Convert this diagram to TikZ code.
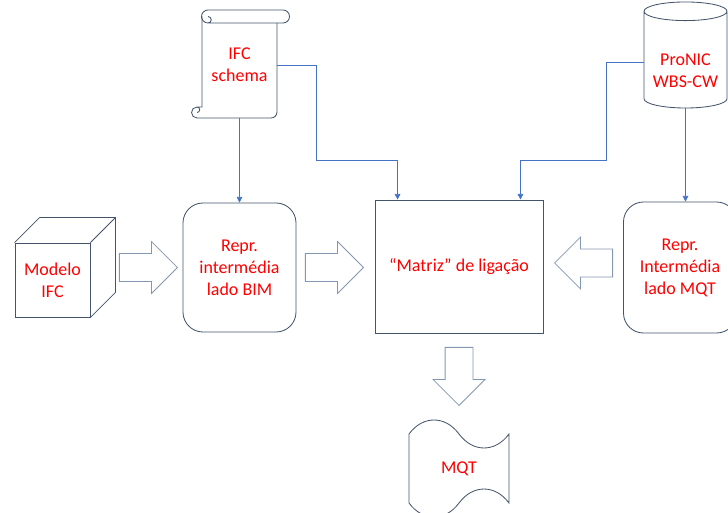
\documentclass[tikz,border=0pt]{standalone}
\usepackage{fontspec}
\setmainfont{Carlito}
\usepackage{tikz}
\usetikzlibrary{shapes.geometric,shapes.arrows,shapes.symbols}
\usetikzlibrary{calc,arrows.meta}

\definecolor{outline}{HTML}{44546A}
\definecolor{linkblue}{HTML}{4472C4}
\definecolor{fatline}{HTML}{8497B0}
\definecolor{labelred}{HTML}{FF0000}

\begin{document}
\begin{tikzpicture}[x=0.025cm,y=-0.025cm,
	font=\fontsize{12.8}{15.6}\selectfont,
	txt/.style={text=labelred,align=center},
	box/.style={draw=outline,line width=0.6pt,txt},
	fat/.style={single arrow,draw=fatline,line width=0.6pt,minimum height=1.45cm,single arrow head extend=0.3cm,inner xsep=0pt,inner ysep=0.3375cm,anchor=tip},
	link/.style={draw=linkblue,line width=0.5pt,-{Triangle[length=4pt,width=4pt]}}]
	\clip (0,0) rectangle (728,512);

	% scroll with the schema
	\draw[outline,line width=0.6pt] (208,10) -- (283,10) arc (-90:90:6.5) -- (208,23) arc (90:270:6.5)
		(208,23) arc (90:-90:3.25);
	\draw[outline,line width=0.6pt] (202,16.5) -- (202,107) -- (197,107) arc (270:90:5.5) -- (271,118) arc (90:0:6) -- (277,23)
		(197,107) arc (-90:90:2.75);
	\node[txt,minimum width=1.875cm,minimum height=2.65cm] (ifc) at (239.5,65) {IFC\\schema};

	% database
	\node[box,cylinder,shape border rotate=90,aspect=0.25,minimum height=2.65cm,minimum width=2.075cm] (pronic) at (685.5,62) {\\[5pt]ProNIC\\WBS-CW};

	% cube
	\node[box,minimum width=1.875cm,minimum height=1.85cm] (model) at (52.5,280) {Modelo\\IFC};
	\draw[outline,line width=0.6pt] (model.north west) -- ++(25,-25) -| ($(model.south east)+(25,-25)$) -- (model.south east)
		(model.north east) -- ++(25,-25);

	\node[box,rounded corners=0.5cm,minimum width=2.825cm,minimum height=3.225cm] (bim) at (239.5,267.5) {Repr.\\intermédia\\lado BIM};
	\node[box,minimum width=4.2cm,minimum height=3.325cm] (matrix) at (459,266.5) {“Matriz” de ligação};
	\node[box,rounded corners=0.5cm,minimum width=2.825cm,minimum height=3.275cm] (mqt) at (680,267.5) {Repr.\\Intermédia\\lado MQT};
	\node[box,tape,tape bend top=out and in,tape bend height=0.7cm,minimum width=2.5cm,minimum height=2.425cm] (out) at (459,468.5) {MQT};

	\node[fat] (a1) at (178,267.5) {};
	\node[fat] (a2) at (364,267.5) {};
	\node[fat,rotate=180] (a3) at (554,263) {};
	\node[fat,rotate=-90] (a4) at (459,406) {};

	\draw[link] (ifc.south) -- (bim.north);
	\draw[link] (ifc.east) -| (316,160) -| ($(matrix.north west)+(23,0)$);
	\draw[link] (pronic.west) -| (606,160) -| ($(matrix.north east)+(-23,0)$);
	\draw[link] (pronic.south) -- (pronic.south |- mqt.north);
\end{tikzpicture}
\end{document}
